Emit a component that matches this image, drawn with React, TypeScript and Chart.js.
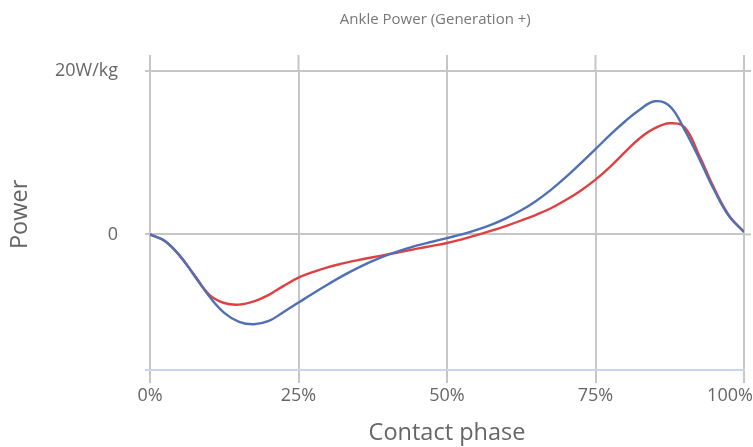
import React, { useEffect, useRef } from "react";
import { Chart, registerables } from "chart.js";
Chart.register(...registerables);

const chartTitle = "Ankle Power (Generation +)";
const xTitle = "Contact phase";
const yTitle = "Power";

const phase = [
  0, 2.5, 5, 7.5, 10, 12.5, 15, 17.5, 20, 22.5, 25, 27.5, 30, 32.5, 35, 37.5, 40,
  42.5, 45, 47.5, 50, 52.5, 55, 57.5, 60, 62.5, 65, 67.5, 70, 72.5, 75, 77.5, 80,
  82.5, 85, 87.5, 90, 92.5, 95, 97.5, 100,
];

const blueSeries = [
  0, -0.8, -2.6, -5.1, -7.6, -9.6, -10.7, -11.0, -10.6, -9.5, -8.35, -7.2, -6.1,
  -5.05, -4.1, -3.25, -2.5, -1.9, -1.35, -0.9, -0.45, 0.0, 0.55, 1.2, 2.0, 2.95,
  4.1, 5.45, 7.0, 8.7, 10.45, 12.2, 13.85, 15.3, 16.3, 15.7, 12.8, 9.2, 5.4, 2.2,
  0.3,
];

const redSeries = [
  0, -0.8, -2.6, -5.0, -7.4, -8.4, -8.6, -8.2, -7.4, -6.3, -5.3, -4.6, -4.0,
  -3.55, -3.15, -2.8, -2.45, -2.1, -1.75, -1.4, -1.05, -0.6, -0.1, 0.45, 1.05,
  1.7, 2.4, 3.2, 4.2, 5.35, 6.7, 8.3, 10.1, 11.8, 13.0, 13.6, 13.1, 9.6, 5.6, 2.3,
  0.3,
];

const xTickStep = 25;
const yTickValues = [0, 20];
const yTickLabels = ["0", "20W/kg"];
const yMin = -16.6;
const yMax = 20;

const W = 753;
const H = 447;
const FONT = "'Open Sans', sans-serif";
const GRID = "#c6c6c6";
const AXIS = "#ccd6eb";

export default function App() {
  const ref = useRef<HTMLCanvasElement>(null);

  useEffect(() => {
    document.body.style.margin = "0";
    const extendPlugin = {
      id: "extendGrid",
      beforeDatasetsDraw(chart: any) {
        const { ctx, chartArea, scales } = chart;
        ctx.save();
        ctx.strokeStyle = GRID;
        ctx.lineWidth = 2;
        scales.x.ticks.forEach((t: any) => {
          const x = scales.x.getPixelForValue(t.value);
          ctx.beginPath();
          ctx.moveTo(x, chartArea.top - 16);
          ctx.lineTo(x, chartArea.top);
          ctx.stroke();
        });
        yTickValues.forEach((v) => {
          const y = scales.y.getPixelForValue(v);
          ctx.beginPath();
          ctx.moveTo(chartArea.right, y);
          ctx.lineTo(chartArea.right + 7, y);
          ctx.stroke();
        });
        ctx.restore();
      },
    };

    const chart = new Chart(ref.current as HTMLCanvasElement, {
      type: "line",
      data: {
        datasets: [
          {
            label: "Blue",
            data: phase.map((p, i) => ({ x: p, y: blueSeries[i] })),
            borderColor: "#5070b5",
            borderWidth: 2.4,
            pointRadius: 0,
            tension: 0.4,
            fill: false,
          },
          {
            label: "Red",
            data: phase.map((p, i) => ({ x: p, y: redSeries[i] })),
            borderColor: "#dc4242",
            borderWidth: 2.4,
            pointRadius: 0,
            tension: 0.4,
            fill: false,
          },
        ],
      },
      options: {
        animation: false,
        responsive: true,
        maintainAspectRatio: false,
        layout: { padding: { left: 0, right: 9, top: 0, bottom: 0 } },
        plugins: {
          legend: { display: false },
          tooltip: { enabled: false },
          title: {
            display: true,
            fullSize: false,
            text: chartTitle + "      ",
            color: "#777",
            font: { family: FONT, size: 15, weight: "normal" },
            padding: { top: 11, bottom: 42 },
          },
        },
        scales: {
          x: {
            type: "linear",
            min: 0,
            max: 100,
            ticks: {
              stepSize: xTickStep,
              autoSkip: false,
              maxRotation: 0,
              padding: 2,
              color: "#666",
              font: { family: FONT, size: 18 },
              callback: (v: any) => (v === 100 ? `${v}%      ` : `${v}%`),
            },
            grid: { color: GRID, lineWidth: 2, tickLength: 13 },
            border: { display: true, color: AXIS, width: 2 },
            title: {
              display: true,
              text: xTitle,
              color: "#666",
              font: { family: FONT, size: 23.5 },
              padding: { top: 0, bottom: 0 },
            },
            afterFit: (s: any) => {
              s.height = 77;
              s.paddingLeft = 0;
              s.paddingRight = 0;
            },
          },
          y: {
            type: "linear",
            min: yMin,
            max: yMax,
            afterBuildTicks: (s: any) => {
              s.ticks = [yMin, ...yTickValues].map((v) => ({ value: v }));
            },
            ticks: {
              autoSkip: false,
              padding: 27,
              color: "#666",
              font: { family: FONT, size: 18 },
              callback: (v: any) => {
                const i = yTickValues.indexOf(v);
                return i >= 0 ? yTickLabels[i] : "";
              },
            },
            grid: {
              lineWidth: 2,
              tickLength: 5,
              color: (c: any) => (c.tick && c.tick.value === yMin ? "rgba(0,0,0,0)" : GRID),
              tickColor: (c: any) => (c.tick && c.tick.value === yMin ? AXIS : GRID),
            },
            border: { display: false },
            title: {
              display: true,
              text: "  " + yTitle,
              color: "#666",
              font: { family: FONT, size: 23.5 },
              padding: { top: 6, bottom: 0 },
            },
            afterFit: (s: any) => {
              s.width = 150;
            },
          },
        },
      },
      plugins: [extendPlugin],
    });
    return () => chart.destroy();
  }, []);

  return (
    <div style={{ width: W, height: H, position: "relative" }}>
      <canvas ref={ref} />
    </div>
  );
}
